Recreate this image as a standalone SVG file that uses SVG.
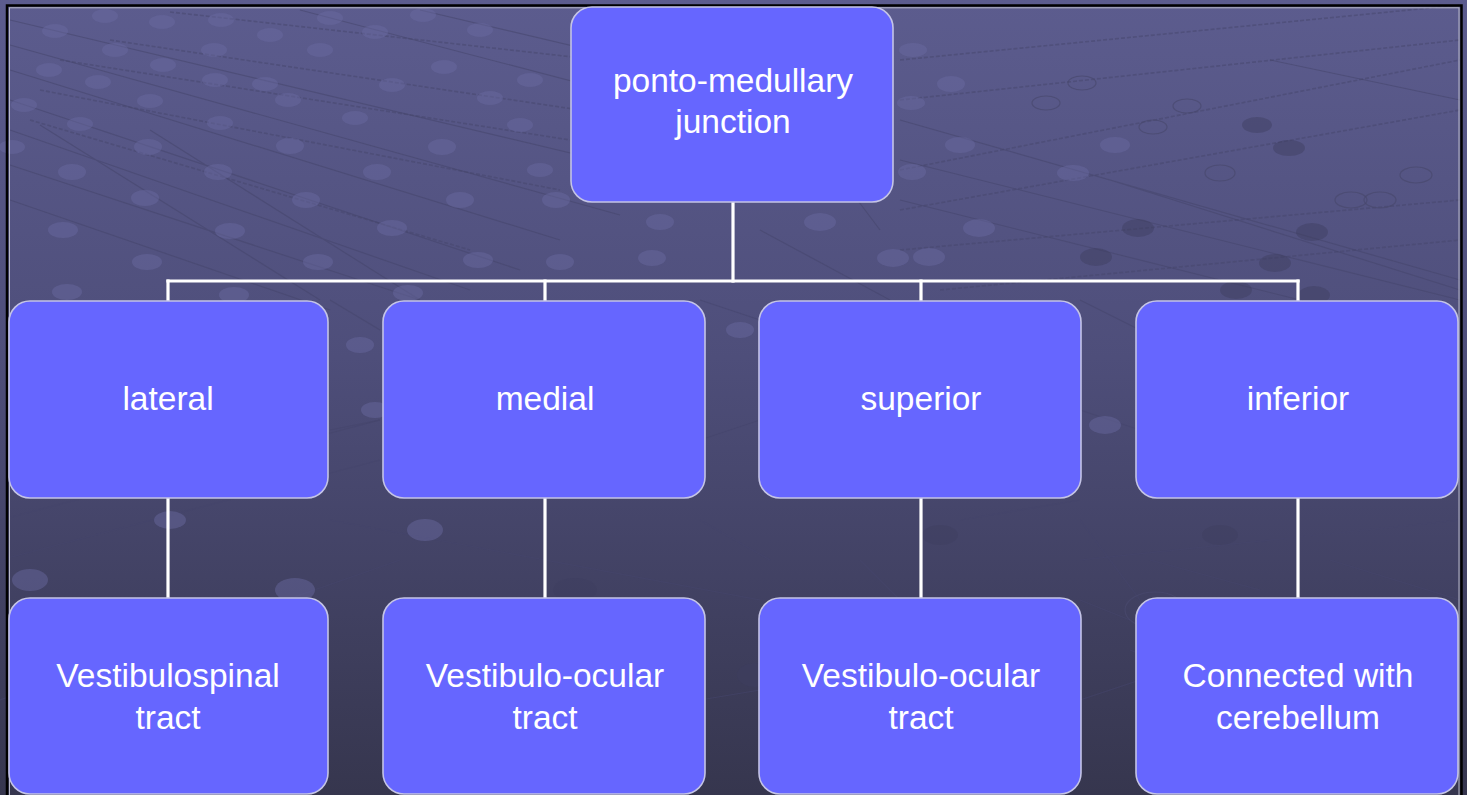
<svg xmlns="http://www.w3.org/2000/svg" width="1467" height="795" viewBox="0 0 1467 795">
  <defs>
    <linearGradient id="bg" x1="0" y1="0" x2="0" y2="1">
      <stop offset="0" stop-color="#5c5c8e"/>
      <stop offset="0.45" stop-color="#4e4e7a"/>
      <stop offset="1" stop-color="#36364e"/>
    </linearGradient>
    <style>
      .node rect { fill: #6666ff; stroke: #c4c4e6; stroke-width: 1.6; }
      .node text { fill: #ffffff; font-family: "Liberation Sans", Arial, sans-serif; font-size: 33.5px; text-anchor: middle; }
      .conn { stroke: #ffffff; stroke-width: 3.2; fill: none; stroke-linecap: square; }
      .dot { fill: #6a6aa2; opacity: 0.45; }
      .dotd { fill: #3e3e60; opacity: 0.45; }
      .ring { fill: none; stroke: #48486e; stroke-width: 1.2; opacity: 0.7; }
      .tex { stroke: #46466c; stroke-width: 1.2; fill: none; opacity: 0.55; }
      .texd { stroke: #46466c; stroke-width: 1.6; fill: none; opacity: 0.5; stroke-dasharray: 4 2; }
    </style>
  </defs>

  <!-- backdrop -->
  <rect x="0" y="0" width="1467" height="795" fill="url(#bg)"/>

  <!-- circuit texture: traces -->
  <g id="texture">
    <path class="tex" d="M10 20 L600 160 M10 45 L620 215 M10 70 L560 240 M10 100 L520 270 M10 130 L470 290 M10 165 L420 300 M10 200 L330 310 M40 125 L320 300 M150 130 L420 300 M300 10 L720 120 M420 10 L760 90"/>
    <path class="texd" d="M170 12 L600 60 M110 40 L580 110 M60 60 L570 140 M40 90 L560 190 M30 120 L470 250"/>
    <path class="texd" d="M900 60 L1460 5 M900 100 L1460 40 M900 170 L1460 60 M900 210 L1460 110 M900 250 L1460 200 M940 290 L1460 240"/>
    <path class="tex" d="M900 120 L1460 280 M900 160 L1460 300 M900 200 L1300 300 M1110 180 L1460 290 M760 230 L890 300 M820 150 L880 230 M1270 60 L1460 100"/>
    <path class="tex" d="M0 520 L380 420 M0 560 L380 460 M0 700 L400 560 M330 520 L760 600 M700 520 L770 560 M1080 520 L1140 600 M1080 560 L1460 520 M1080 600 L1130 620 M1330 560 L1460 600 M1130 650 L1460 780 M700 700 L760 690 M1080 700 L1140 680"/>
    <path class="tex" d="M330 300 L380 330 M700 300 L760 320 M1080 300 L1140 330 M330 430 L380 420 M700 440 L760 420 M1080 410 L1140 430"/>
    <path class="tex" d="M860 560 L900 600 M960 520 L1080 500 M1150 560 L1260 590"/>
  </g>

  <!-- circuit texture: pads -->
  <g id="pads">
    <ellipse class="dot" cx="105" cy="16" rx="13" ry="7"/>
    <ellipse class="dot" cx="55" cy="31" rx="13" ry="7"/>
    <ellipse class="dot" cx="162" cy="22" rx="13" ry="7"/>
    <ellipse class="dot" cx="221" cy="20" rx="13" ry="7"/>
    <ellipse class="dot" cx="270" cy="35" rx="13" ry="7"/>
    <ellipse class="dot" cx="115" cy="50" rx="13" ry="7"/>
    <ellipse class="dot" cx="214" cy="50" rx="13" ry="7"/>
    <ellipse class="dot" cx="163" cy="65" rx="13" ry="7"/>
    <ellipse class="dot" cx="49" cy="70" rx="13" ry="7"/>
    <ellipse class="dot" cx="98" cy="82" rx="13" ry="7"/>
    <ellipse class="dot" cx="215" cy="80" rx="13" ry="7"/>
    <ellipse class="dot" cx="265" cy="84" rx="13" ry="7"/>
    <ellipse class="dot" cx="24" cy="105" rx="13" ry="7"/>
    <ellipse class="dot" cx="150" cy="101" rx="13" ry="7"/>
    <ellipse class="dot" cx="288" cy="100" rx="13" ry="7"/>
    <ellipse class="dot" cx="80" cy="124" rx="13" ry="7"/>
    <ellipse class="dot" cx="220" cy="123" rx="13" ry="7"/>
    <ellipse class="dot" cx="355" cy="118" rx="13" ry="7"/>
    <ellipse class="dot" cx="12" cy="147" rx="13" ry="7"/>
    <ellipse class="dot" cx="148" cy="147" rx="14" ry="8"/>
    <ellipse class="dot" cx="290" cy="146" rx="14" ry="8"/>
    <ellipse class="dot" cx="442" cy="147" rx="14" ry="8"/>
    <ellipse class="dot" cx="72" cy="172" rx="14" ry="8"/>
    <ellipse class="dot" cx="218" cy="172" rx="14" ry="8"/>
    <ellipse class="dot" cx="377" cy="172" rx="14" ry="8"/>
    <ellipse class="dot" cx="145" cy="198" rx="14" ry="8"/>
    <ellipse class="dot" cx="306" cy="200" rx="14" ry="8"/>
    <ellipse class="dot" cx="460" cy="200" rx="14" ry="8"/>
    <ellipse class="dot" cx="63" cy="230" rx="15" ry="8"/>
    <ellipse class="dot" cx="230" cy="231" rx="15" ry="8"/>
    <ellipse class="dot" cx="392" cy="228" rx="15" ry="8"/>
    <ellipse class="dot" cx="147" cy="262" rx="15" ry="8"/>
    <ellipse class="dot" cx="318" cy="262" rx="15" ry="8"/>
    <ellipse class="dot" cx="478" cy="260" rx="15" ry="8"/>
    <ellipse class="dot" cx="67" cy="292" rx="15" ry="8"/>
    <ellipse class="dot" cx="234" cy="295" rx="15" ry="8"/>
    <ellipse class="dot" cx="408" cy="293" rx="15" ry="8"/>
    <ellipse class="dot" cx="330" cy="18" rx="13" ry="7"/>
    <ellipse class="dot" cx="375" cy="32" rx="13" ry="7"/>
    <ellipse class="dot" cx="320" cy="50" rx="13" ry="7"/>
    <ellipse class="dot" cx="423" cy="15" rx="13" ry="7"/>
    <ellipse class="dot" cx="444" cy="67" rx="13" ry="7"/>
    <ellipse class="dot" cx="392" cy="85" rx="13" ry="7"/>
    <ellipse class="dot" cx="480" cy="30" rx="13" ry="7"/>
    <ellipse class="dot" cx="490" cy="98" rx="13" ry="7"/>
    <ellipse class="dot" cx="530" cy="80" rx="13" ry="7"/>
    <ellipse class="dot" cx="520" cy="125" rx="13" ry="7"/>
    <ellipse class="dot" cx="540" cy="170" rx="13" ry="7"/>
    <ellipse class="dot" cx="556" cy="200" rx="14" ry="8"/>
    <ellipse class="dot" cx="560" cy="262" rx="14" ry="8"/>
    <ellipse class="dot" cx="652" cy="258" rx="14" ry="8"/>
    <ellipse class="dot" cx="820" cy="222" rx="16" ry="9"/>
    <ellipse class="dot" cx="893" cy="258" rx="16" ry="9"/>
    <ellipse class="dot" cx="660" cy="222" rx="14" ry="8"/>
    <ellipse class="dot" cx="913" cy="50" rx="14" ry="7"/>
    <ellipse class="dot" cx="951" cy="84" rx="14" ry="8"/>
    <ellipse class="dot" cx="911" cy="103" rx="14" ry="7"/>
    <ellipse class="dot" cx="960" cy="145" rx="15" ry="8"/>
    <ellipse class="dot" cx="1115" cy="145" rx="15" ry="8"/>
    <ellipse class="dot" cx="912" cy="172" rx="14" ry="8"/>
    <ellipse class="dot" cx="1073" cy="173" rx="16" ry="8"/>
    <ellipse class="dot" cx="979" cy="228" rx="16" ry="9"/>
    <ellipse class="dot" cx="929" cy="257" rx="16" ry="9"/>
    <ellipse class="dotd" cx="1289" cy="148" rx="16" ry="8"/>
    <ellipse class="dotd" cx="1257" cy="125" rx="15" ry="8"/>
    <ellipse class="dotd" cx="1138" cy="228" rx="16" ry="9"/>
    <ellipse class="dotd" cx="1312" cy="232" rx="16" ry="9"/>
    <ellipse class="dotd" cx="1096" cy="257" rx="16" ry="9"/>
    <ellipse class="dotd" cx="1275" cy="263" rx="16" ry="9"/>
    <ellipse class="dotd" cx="1236" cy="290" rx="16" ry="9"/>
    <ellipse class="dotd" cx="1314" cy="295" rx="16" ry="9"/>
    <ellipse class="ring" cx="1082" cy="83" rx="14" ry="7"/>
    <ellipse class="ring" cx="1046" cy="103" rx="14" ry="7"/>
    <ellipse class="ring" cx="1187" cy="106" rx="14" ry="7"/>
    <ellipse class="ring" cx="1153" cy="127" rx="14" ry="7"/>
    <ellipse class="ring" cx="1220" cy="173" rx="15" ry="8"/>
    <ellipse class="ring" cx="1380" cy="200" rx="16" ry="8"/>
    <ellipse class="ring" cx="1416" cy="175" rx="16" ry="8"/>
    <ellipse class="ring" cx="1351" cy="200" rx="16" ry="8"/>
    <ellipse class="dot" cx="170" cy="520" rx="16" ry="9"/>
    <ellipse class="dot" cx="425" cy="530" rx="18" ry="11"/>
    <ellipse class="dot" cx="30" cy="580" rx="18" ry="11"/>
    <ellipse class="dot" cx="295" cy="590" rx="20" ry="12"/>
    <ellipse class="dot" cx="360" cy="345" rx="14" ry="8"/>
    <ellipse class="dot" cx="375" cy="410" rx="14" ry="8"/>
    <ellipse class="dot" cx="740" cy="330" rx="14" ry="8"/>
    <ellipse class="dot" cx="1105" cy="425" rx="16" ry="9"/>
    <ellipse class="dotd" cx="940" cy="535" rx="18" ry="10"/>
    <ellipse class="dotd" cx="1220" cy="535" rx="18" ry="10"/>
    <ellipse class="dotd" cx="575" cy="590" rx="22" ry="12"/>
    <ellipse class="dotd" cx="755" cy="675" rx="18" ry="12"/>
    <ellipse class="ring" cx="1155" cy="610" rx="30" ry="18"/>
  </g>

  <!-- slide frame -->
  <rect x="7" y="5.5" width="1454.5" height="800" fill="none" stroke="#000000" stroke-width="2.5"/>
  <rect x="9.5" y="7.8" width="1449.5" height="800" fill="none" stroke="#b8b8c8" stroke-width="1"/>

  <!-- connectors -->
  <g id="connectors" class="conn">
    <path d="M733 202 V281"/>
    <path d="M168 281 H1298"/>
    <path d="M168 281 V301 M545 281 V301 M921 281 V301 M1298 281 V301"/>
    <path d="M168 498 V598"/>
    <path d="M545 498 V598"/>
    <path d="M921 498 V598"/>
    <path d="M1298 498 V598"/>
  </g>

  <!-- root -->
  <g id="node-root" class="node">
    <rect x="571" y="7" width="322" height="195" rx="21"/>
    <text x="733" y="92">ponto-medullary</text>
    <text x="733" y="133">junction</text>
  </g>

  <!-- second level -->
  <g id="node-lateral" class="node">
    <rect x="9" y="301" width="319" height="197" rx="21"/>
    <text x="168" y="410">lateral</text>
  </g>
  <g id="node-medial" class="node">
    <rect x="383" y="301" width="322" height="197" rx="21"/>
    <text x="545" y="410">medial</text>
  </g>
  <g id="node-superior" class="node">
    <rect x="759" y="301" width="322" height="197" rx="21"/>
    <text x="921" y="410">superior</text>
  </g>
  <g id="node-inferior" class="node">
    <rect x="1136" y="301" width="322" height="197" rx="21"/>
    <text x="1298" y="410">inferior</text>
  </g>

  <!-- third level -->
  <g id="node-vestibulospinal" class="node">
    <rect x="9" y="598" width="319" height="196" rx="21"/>
    <text x="168" y="687">Vestibulospinal</text>
    <text x="168" y="729">tract</text>
  </g>
  <g id="node-vor-medial" class="node">
    <rect x="383" y="598" width="322" height="196" rx="21"/>
    <text x="545" y="687">Vestibulo-ocular</text>
    <text x="545" y="729">tract</text>
  </g>
  <g id="node-vor-superior" class="node">
    <rect x="759" y="598" width="322" height="196" rx="21"/>
    <text x="921" y="687">Vestibulo-ocular</text>
    <text x="921" y="729">tract</text>
  </g>
  <g id="node-cerebellum" class="node">
    <rect x="1136" y="598" width="322" height="196" rx="21"/>
    <text x="1298" y="687">Connected with</text>
    <text x="1298" y="729">cerebellum</text>
  </g>
</svg>
